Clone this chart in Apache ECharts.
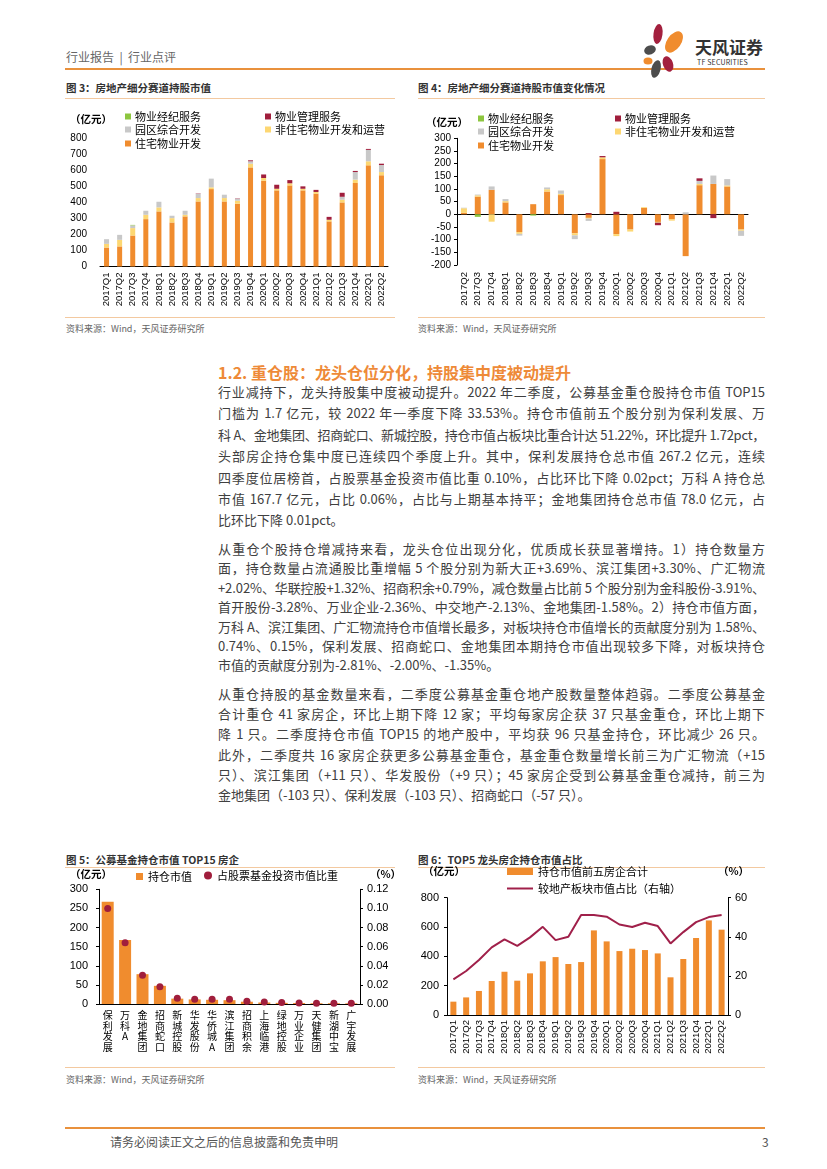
<!DOCTYPE html>
<html><head><meta charset="utf-8">
<script src="https://cdn.jsdelivr.net/npm/echarts/dist/echarts.min.js"></script>
<style>
body{margin:0;width:827px;height:1169px;position:relative;background:#fff;font-family:"Noto Sans CJK SC","Liberation Sans",sans-serif;overflow:hidden}
.abs{position:absolute;white-space:nowrap}
.hl{position:absolute;height:0;border-top:1px solid #F3C9A0}
.ln{position:absolute;left:218px;width:547px;height:20px;line-height:20px;font-size:13px;color:#404040;white-space:nowrap;text-align:justify;text-align-last:justify}
.ln.last{text-align:left;text-align-last:left}
.ft{font-size:10.5px;font-weight:bold;color:#333}
.src{font-size:9px;color:#666}
.chart{position:absolute}
</style></head>
<body>
<!-- header -->
<div class="abs" style="left:66px;top:48px;font-size:12px;color:#666">行业报告&nbsp;&nbsp;|&nbsp;&nbsp;行业点评</div>
<div class="abs" style="left:65px;top:68px;width:700px;height:2px;background:#E9913C"></div>
<svg class="abs" style="left:636px;top:20px" width="135" height="60" viewBox="0 0 135 60">
  <ellipse cx="22" cy="14" rx="4.5" ry="10" fill="#A3203E" transform="rotate(8 22 14)"/>
  <ellipse cx="38" cy="22" rx="7" ry="12" fill="#F08C2E" transform="rotate(35 38 22)"/>
  <ellipse cx="14" cy="30" rx="6" ry="4.5" fill="#4D4D4D" transform="rotate(-20 14 30)"/>
  <ellipse cx="12" cy="41" rx="4.5" ry="3.5" fill="#F08C2E"/>
  <ellipse cx="32" cy="44" rx="5" ry="8" fill="#A3203E" transform="rotate(-20 32 44)"/>
  <ellipse cx="20" cy="49" rx="4.5" ry="9" fill="#4D4D4D" transform="rotate(15 20 49)"/>
</svg>
<div class="abs" style="left:695px;top:34px;font-size:17px;font-weight:bold;color:#333">天风证券</div>
<div class="abs" style="left:697px;top:57px;font-size:7px;color:#333;letter-spacing:0.2px">TF SECURITIES</div>

<!-- fig titles row 1 -->
<div class="abs ft" style="left:66px;top:80px">图 3：房地产细分赛道持股市值</div>
<div class="abs ft" style="left:418px;top:80px">图 4：房地产细分赛道持股市值变化情况</div>
<div class="hl" style="left:65px;top:98px;width:330px"></div>
<div class="hl" style="left:418px;top:98px;width:347px"></div>
<div id="c3" class="chart" style="left:60px;top:100px;width:340px;height:217px"></div>
<div id="c4" class="chart" style="left:415px;top:100px;width:350px;height:217px"></div>
<div class="hl" style="left:65px;top:317px;width:330px"></div>
<div class="hl" style="left:418px;top:317px;width:347px"></div>
<div class="abs src" style="left:66px;top:322px">资料来源：Wind，天风证券研究所</div>
<div class="abs src" style="left:418px;top:322px">资料来源：Wind，天风证券研究所</div>

<!-- section -->
<div class="abs" style="left:218px;top:360px;font-size:16px;font-weight:bold;color:#EE8A38">1.2. 重仓股：龙头仓位分化，持股集中度被动提升</div>
<div id="body"></div>

<!-- fig titles row 2 -->
<div class="abs ft" style="left:66px;top:852px">图 5：公募基金持仓市值 TOP15 房企</div>
<div class="abs ft" style="left:418px;top:852px">图 6：TOP5 龙头房企持仓市值占比</div>
<div class="hl" style="left:65px;top:867px;width:330px"></div>
<div class="hl" style="left:418px;top:867px;width:347px"></div>
<div id="c5" class="chart" style="left:60px;top:866px;width:340px;height:200px"></div>
<div id="c6" class="chart" style="left:415px;top:866px;width:350px;height:200px"></div>
<div class="hl" style="left:65px;top:1067px;width:330px"></div>
<div class="hl" style="left:418px;top:1067px;width:347px"></div>
<div class="abs src" style="left:66px;top:1073px">资料来源：Wind，天风证券研究所</div>
<div class="abs src" style="left:418px;top:1073px">资料来源：Wind，天风证券研究所</div>

<!-- footer -->
<div class="abs" style="left:65px;top:1127px;width:700px;height:2px;background:#E9913C"></div>
<div class="abs" style="left:110px;top:1133px;font-size:12px;color:#555">请务必阅读正文之后的信息披露和免责申明</div>
<div class="abs" style="left:762px;top:1133px;font-size:12px;color:#555">3</div>

<script>
// ---------------- data ----------------
const quarters = ['2017Q1','2017Q2','2017Q3','2017Q4','2018Q1','2018Q2','2018Q3','2018Q4','2019Q1','2019Q2','2019Q3','2019Q4','2020Q1','2020Q2','2020Q3','2020Q4','2021Q1','2021Q2','2021Q3','2021Q4','2022Q1','2022Q2'];
const quartersChg = ['2017Q2','2017Q3','2017Q4','2018Q1','2018Q2','2018Q3','2018Q4','2019Q1','2019Q2','2019Q3','2019Q4','2020Q1','2020Q2','2020Q3','2020Q4','2021Q1','2021Q2','2021Q3','2021Q4','2022Q1','2022Q2'];
const segNames = ['住宅物业开发','非住宅物业开发和运营','园区综合开发','物业管理服务','物业经纪服务'];
// Fig 3: holdings by segment (亿元)
const residential = [118,125,193,295,343,274,312,405,482,405,391,617,534,474,505,474,453,281,399,520,630,568];
const nonResidential = [23,41,46,27,25,27,10,21,11,21,19,23,17,10,13,10,11,10,17,21,25,20];
const parkDev = [29,31,17,25,35,15,25,27,54,21,12,15,0,0,0,0,0,0,18,47,71,44];
const propMgmt = [0,0,0,0,0,0,0,2,0,0,2,6,22,25,20,15,13,18,25,7,6,8];
const brokerage = [0,0,3,0,0,0,0,0,0,0,0,0,0,0,0,0,0,0,0,0,0,0];
// Fig 4: quarter-on-quarter change (亿元)
const residentialChg = [6,70,97,47,-70,40,90,76,-75,-14,218,-78,-60,25,-30,-20,-165,115,120,110,-60];
const nonResidentialChg = [18,5,-29,5,-7,0,9,5,-8,-3,7,-8,-8,3,-3,-5,0,5,0,4,-5];
const parkDevChg = [2,3,13,8,-7,0,7,13,-15,-9,0,0,0,0,0,0,8,12,33,25,-20];
const propMgmtChg = [0,0,0,0,0,0,0,0,0,5,5,10,0,0,-10,0,0,10,-15,0,0];
const brokerageChg = [0,-10,0,0,0,-5,0,0,0,0,0,0,0,0,0,0,0,0,0,0,0];
// Fig 5: TOP15
const companies = ['保利发展','万科A','金地集团','招商蛇口','新城控股','华发股份','华侨城A','滨江集团','招商积余','上海临港','绿地控股','万业企业','天健集团','新湖中宝','广宇发展'];
const holdingValue = [267.2,167.7,78.0,47.5,14,12,11,10,6,4,3,2.5,2,2,1.7];
const holdingShare = [0.100,0.064,0.030,0.018,0.006,0.005,0.005,0.005,0.0028,0.002,0.0015,0.001,0.0008,0.0008,0.0007];
// Fig 6: top5
const top5Value = [91,120,164,232,295,234,284,366,395,348,361,577,502,436,452,443,420,257,382,525,645,582];
const top5Share = [18.2,22.5,28.1,34.6,38.7,35.4,39.7,45.1,38.3,40.0,51.1,51.1,50.3,46.3,45.0,47.2,45.5,36.6,42.4,47.5,50.1,51.2];

const C_OR='#F08C2E', C_YE='#FDD772', C_GR='#C8C8C8', C_RD='#A01E3C', C_GN='#8DC63F';
const FONT='"Liberation Sans","Noto Sans CJK SC",sans-serif';
const CJK='"Noto Sans CJK SC",sans-serif';

// ---------------- body text ----------------
const paragraphs = [
 {y0:392, dy:21.4, lines:[
  '行业减持下，龙头持股集中度被动提升。2022 年二季度，公募基金重仓股持仓市值 TOP15',
  '门槛为 1.7 亿元，较 2022 年一季度下降 33.53%。持仓市值前五个股分别为保利发展、万',
  '科 A、金地集团、招商蛇口、新城控股，持仓市值占板块比重合计达 51.22%，环比提升 1.72pct，',
  '头部房企持仓集中度已连续四个季度上升。其中，保利发展持仓总市值 267.2 亿元，连续',
  '四季度位居榜首，占股票基金投资市值比重 0.10%，占比环比下降 0.02pct；万科 A 持仓总',
  '市值 167.7 亿元，占比 0.06%，占比与上期基本持平；金地集团持仓总市值 78.0 亿元，占',
  '比环比下降 0.01pct。']},
 {y0:549, dy:19.4, lines:[
  '从重仓个股持仓增减持来看，龙头仓位出现分化，优质成长获显著增持。1）持仓数量方',
  '面，持仓数量占流通股比重增幅 5 个股分别为新大正+3.69%、滨江集团+3.30%、广汇物流',
  '+2.02%、华联控股+1.32%、招商积余+0.79%，减仓数量占比前 5 个股分别为金科股份-3.91%、',
  '首开股份-3.28%、万业企业-2.36%、中交地产-2.13%、金地集团-1.58%。2）持仓市值方面，',
  '万科 A、滨江集团、广汇物流持仓市值增长最多，对板块持仓市值增长的贡献度分别为 1.58%、',
  '0.74%、0.15%，保利发展、招商蛇口、金地集团本期持仓市值出现较多下降，对板块持仓',
  '市值的贡献度分别为-2.81%、-2.00%、-1.35%。']},
 {y0:694, dy:20.2, lines:[
  '从重仓持股的基金数量来看，二季度公募基金重仓地产股数量整体趋弱。二季度公募基金',
  '合计重仓 41 家房企，环比上期下降 12 家；平均每家房企获 37 只基金重仓，环比上期下',
  '降 1 只。二季度持仓市值 TOP15 的地产股中，平均获 96 只基金持仓，环比减少 26 只。',
  '此外，二季度共 16 家房企获更多公募基金重仓，基金重仓数量增长前三为广汇物流（+15',
  '只）、滨江集团（+11 只）、华发股份（+9 只）；45 家房企受到公募基金重仓减持，前三为',
  '金地集团（-103 只）、保利发展（-103 只）、招商蛇口（-57 只）。']}
];
const bodyEl=document.getElementById('body');
paragraphs.forEach(p=>{
  p.lines.forEach((t,i)=>{
    const d=document.createElement('div');
    d.className='ln'+(i===p.lines.length-1?' last':'');
    d.style.top=(p.y0+i*p.dy-10)+'px';
    const s=document.createElement('span');s.textContent=t;d.appendChild(s);
    bodyEl.appendChild(d);
    const w=s.getBoundingClientRect().width;
    if(w>547){d.style.letterSpacing=((547-w)/t.length)+'px';}
  });
});

// ---------------- helpers ----------------
function leg(name,left,top,extra){
  return Object.assign({data:[name],left:left,top:top,itemWidth:6,itemHeight:6,icon:'rect',itemGap:0,padding:0,
    textStyle:{fontSize:11,color:'#000',fontFamily:CJK,padding:[0,0,0,-1]}},extra||{});
}
function unitText(text,left,top){
  return {type:'text',left:left,top:top,style:{text:text,font:'bold 10.5px '+CJK,fill:'#000'}};
}

// ---------------- chart 3 ----------------
const c3=echarts.init(document.getElementById('c3'));
c3.setOption({
  animation:false,textStyle:{fontFamily:FONT},
  grid:{left:40,top:38,width:288,height:128.5},
  graphic:[unitText('（亿元）',10,14)],
  legend:[leg('物业经纪服务',65,11),leg('物业管理服务',205,11),leg('园区综合开发',65,24),leg('非住宅物业开发和运营',205,24),leg('住宅物业开发',65,38)],
  xAxis:{type:'category',data:quarters,axisLine:{lineStyle:{color:'#000',width:1}},axisTick:{length:4,lineStyle:{color:'#000'}},
    axisLabel:{rotate:90,fontSize:9.5,color:'#000',margin:6,interval:0}},
  yAxis:{type:'value',min:0,max:800,interval:100,axisLine:{show:false},axisTick:{show:false},splitLine:{show:false},
    axisLabel:{fontSize:10,color:'#000',margin:13}},
  series:[
    {name:segNames[0],type:'bar',stack:'a',data:residential,barWidth:5,itemStyle:{color:C_OR}},
    {name:segNames[1],type:'bar',stack:'a',data:nonResidential,itemStyle:{color:C_YE}},
    {name:segNames[2],type:'bar',stack:'a',data:parkDev,itemStyle:{color:C_GR}},
    {name:segNames[3],type:'bar',stack:'a',data:propMgmt,itemStyle:{color:C_RD}},
    {name:segNames[4],type:'bar',stack:'a',data:brokerage,itemStyle:{color:C_GN}}
  ]
});

// ---------------- chart 4 ----------------
const c4=echarts.init(document.getElementById('c4'));
c4.setOption({
  animation:false,textStyle:{fontFamily:FONT},
  grid:{left:42,top:38.3,width:291,height:126.7},
  graphic:[unitText('（亿元）',11,17)],
  legend:[leg('物业经纪服务',63,13),leg('物业管理服务',200,13),leg('园区综合开发',63,26),leg('非住宅物业开发和运营',200,26),leg('住宅物业开发',63,40)],
  xAxis:[
    {type:'category',data:quartersChg,position:'bottom',axisLine:{onZero:true,lineStyle:{color:'#000'}},axisTick:{length:3,lineStyle:{color:'#000'}},axisLabel:{show:false}},
    {type:'category',data:quartersChg,position:'bottom',axisLine:{show:false,onZero:false},axisTick:{show:false},
      axisLabel:{rotate:90,fontSize:9.5,color:'#000',margin:7,interval:0}}
  ],
  yAxis:{type:'value',min:-200,max:300,interval:50,axisLine:{show:true,lineStyle:{color:'#000'}},axisTick:{show:true,length:3,lineStyle:{color:'#000'}},splitLine:{show:false},
    axisLabel:{fontSize:10,color:'#000',margin:6}},
  series:[
    {name:segNames[0],type:'bar',stack:'b',data:residentialChg,barWidth:6,itemStyle:{color:C_OR}},
    {name:segNames[1],type:'bar',stack:'b',data:nonResidentialChg,itemStyle:{color:C_YE}},
    {name:segNames[2],type:'bar',stack:'b',data:parkDevChg,itemStyle:{color:C_GR}},
    {name:segNames[3],type:'bar',stack:'b',data:propMgmtChg,itemStyle:{color:C_RD}},
    {name:segNames[4],type:'bar',stack:'b',data:brokerageChg,itemStyle:{color:C_GN}}
  ]
});

// ---------------- chart 5 ----------------
const c5=echarts.init(document.getElementById('c5'));
c5.setOption({
  animation:false,textStyle:{fontFamily:FONT},
  grid:{left:39,top:23.3,width:261,height:114.7},
  graphic:[unitText('（亿元）',10,3),unitText('（%）',310,3)],
  legend:[
    leg('持仓市值',76,5,{itemWidth:7,itemHeight:7,textStyle:{fontSize:11,color:'#000',fontFamily:CJK}}),
    leg('占股票基金投资市值比重',144,4,{icon:'circle',itemWidth:8,itemHeight:8,textStyle:{fontSize:11,color:'#000',fontFamily:CJK}})
  ],
  xAxis:{type:'category',data:companies,axisLine:{lineStyle:{color:'#000'}},axisTick:{length:3,lineStyle:{color:'#000'}},
    axisLabel:{interval:0,fontSize:10,lineHeight:10.5,color:'#000',margin:6,fontFamily:CJK,formatter:v=>v.split('').join('\n'),verticalAlign:'top'}},
  yAxis:[
    {type:'value',min:0,max:300,interval:50,axisLine:{show:true,lineStyle:{color:'#000'}},axisTick:{show:true,length:3,lineStyle:{color:'#000'}},splitLine:{show:false},
      axisLabel:{fontSize:11,color:'#000',margin:11}},
    {type:'value',min:0,max:0.12,interval:0.02,position:'right',axisLine:{show:true,lineStyle:{color:'#000'}},axisTick:{show:true,length:3,lineStyle:{color:'#000'}},splitLine:{show:false},
      axisLabel:{fontSize:11,color:'#000',margin:7,formatter:v=>v.toFixed(2)}}
  ],
  series:[
    {name:'持仓市值',type:'bar',data:holdingValue,barWidth:12,itemStyle:{color:C_OR}},
    {name:'占股票基金投资市值比重',type:'scatter',yAxisIndex:1,data:holdingShare,symbolSize:7,itemStyle:{color:C_RD,opacity:1}}
  ]
});

// ---------------- chart 6 ----------------
const c6=echarts.init(document.getElementById('c6'));
c6.setOption({
  animation:false,textStyle:{fontFamily:FONT},
  grid:{left:32,top:31.7,width:281,height:117.3},
  graphic:[unitText('（亿元）',8,0),unitText('（%）',303,0)],
  legend:[
    {data:['持仓市值前五房企合计'],left:92,top:0,itemWidth:26,itemHeight:7,icon:'rect',padding:0,textStyle:{fontSize:11,color:'#000',fontFamily:CJK}},
    {data:['较地产板块市值占比（右轴）'],left:92,top:15,itemWidth:26,itemHeight:2,icon:'rect',padding:[2,0,0,0],textStyle:{fontSize:11,color:'#000',fontFamily:CJK}}
  ],
  xAxis:{type:'category',data:quarters,axisLine:{lineStyle:{color:'#000'}},axisTick:{length:3,lineStyle:{color:'#000'}},
    axisLabel:{rotate:90,fontSize:9.5,color:'#000',margin:5,interval:0}},
  yAxis:[
    {type:'value',min:0,max:800,interval:200,axisLine:{show:true,lineStyle:{color:'#000'}},axisTick:{show:true,length:3,lineStyle:{color:'#000'}},splitLine:{show:false},
      axisLabel:{fontSize:11,color:'#000',margin:8}},
    {type:'value',min:0,max:60,interval:20,position:'right',axisLine:{show:true,lineStyle:{color:'#000'}},axisTick:{show:true,length:3,lineStyle:{color:'#000'}},splitLine:{show:false},
      axisLabel:{fontSize:11,color:'#000',margin:7}}
  ],
  series:[
    {name:'持仓市值前五房企合计',type:'bar',data:top5Value,barWidth:6,itemStyle:{color:C_OR}},
    {name:'较地产板块市值占比（右轴）',type:'line',yAxisIndex:1,data:top5Share,symbol:'none',lineStyle:{color:'#A0204A',width:2},itemStyle:{color:'#A0204A'}}
  ]
});
</script>
</body></html>
